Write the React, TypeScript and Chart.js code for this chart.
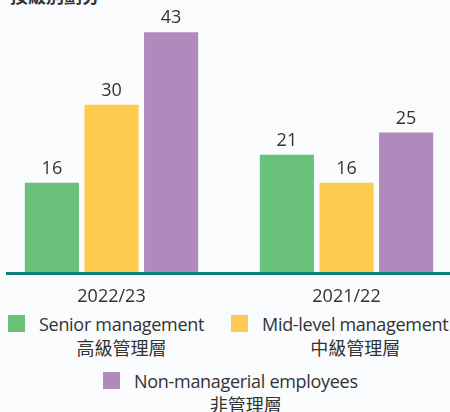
import React, { useEffect, useRef } from 'react';
import { Chart, registerables } from 'chart.js';

Chart.register(...registerables);

// ---- data ----
const categories = ['2022/23', '2021/22'];
const seriesNames = ['Senior management', 'Mid-level management', 'Non-managerial employees'];
const seriesNamesZh = ['高級管理層', '中級管理層', '非管理層'];
const seniorValues = [16, 21];
const midLevelValues = [30, 16];
const nonManagerialValues = [43, 25];
const titleText = '按級別劃分';

// ---- styles ----
const COLORS = ['#69c17a', '#fecb4f', '#b289bd'];
const TEXT = '#333333';
const AXIS = '#0a7f73';
const BG = '#f9fbfc';
const FONT = "'Open Sans', 'Noto Sans CJK TC', sans-serif";

const valueLabelPlugin = {
  id: 'valueLabels',
  afterDatasetsDraw(chart: any) {
    const ctx = chart.ctx;
    ctx.save();
    ctx.font = `18px ${FONT}`;
    ctx.fillStyle = TEXT;
    ctx.textAlign = 'center';
    ctx.textBaseline = 'alphabetic';
    chart.data.datasets.forEach((ds: any, i: number) => {
      const meta = chart.getDatasetMeta(i);
      meta.data.forEach((el: any, j: number) => {
        ctx.fillText(String(ds.data[j]), el.x, el.y - 9);
      });
    });
    ctx.restore();
  },
};

const axisLinePlugin = {
  id: 'axisLine',
  afterDatasetsDraw(chart: any) {
    const ctx = chart.ctx;
    const y = chart.scales.y.getPixelForValue(0);
    ctx.save();
    ctx.strokeStyle = AXIS;
    ctx.lineWidth = 3;
    ctx.beginPath();
    ctx.moveTo(chart.chartArea.left + 12, y + 1.5);
    ctx.lineTo(chart.width, y + 1.5);
    ctx.stroke();
    ctx.restore();
  },
};

const legendPlacement = [
  { left: 8, top: 312 },
  { left: 231, top: 312 },
  { left: 103, top: 369 },
];

export default function App() {
  const canvasRef = useRef<HTMLCanvasElement | null>(null);

  useEffect(() => {
    if (!canvasRef.current) return;
    const seriesValues = [seniorValues, midLevelValues, nonManagerialValues];
    const chart = new Chart(canvasRef.current, {
      type: 'bar',
      data: {
        labels: categories,
        datasets: seriesNames.map((name, i) => ({
          label: name,
          data: seriesValues[i],
          backgroundColor: COLORS[i],
          borderWidth: 0,
          barPercentage: 0.908,
          categoryPercentage: 0.761,
        })),
      },
      options: {
        responsive: false,
        animation: false,
        devicePixelRatio: 1,
        layout: { padding: { top: 21, left: 0, right: 0, bottom: 0 } },
        plugins: {
          legend: { display: false },
          tooltip: { enabled: false },
          title: { display: false },
        },
        scales: {
          x: {
            grid: { display: false, drawTicks: false },
            border: { display: false },
            ticks: {
              color: TEXT,
              font: { family: FONT, size: 18 },
              padding: 14,
            },
            afterFit: (scale: any) => {
              scale.height = 40;
            },
          },
          y: {
            display: false,
            min: 0,
            max: 45,
          },
        },
      },
      plugins: [valueLabelPlugin, axisLinePlugin],
    });
    return () => chart.destroy();
  }, []);

  return (
    <div
      style={{
        position: 'fixed',
        left: 0,
        top: 0,
        width: 450,
        height: 412,
        overflow: 'hidden',
        background: BG,
        fontFamily: FONT,
        color: TEXT,
      }}
    >
      <div
        style={{
          position: 'absolute',
          left: 10,
          top: -16,
          fontSize: 18,
          lineHeight: '24px',
          fontWeight: 'bold',
          whiteSpace: 'nowrap',
        }}
      >
        {titleText}
      </div>
      <canvas
        ref={canvasRef}
        width={470}
        height={312}
        style={{ position: 'absolute', left: -6, top: 0, width: 470, height: 312 }}
      />
      {seriesNames.map((name, i) => (
        <div
          key={name}
          style={{
            position: 'absolute',
            left: legendPlacement[i].left,
            top: legendPlacement[i].top,
            display: 'flex',
            alignItems: 'flex-start',
            whiteSpace: 'nowrap',
          }}
        >
          <div
            style={{
              width: 17,
              height: 17,
              marginTop: 3,
              marginRight: 14,
              background: COLORS[i],
              flex: 'none',
            }}
          />
          <div style={{ fontSize: 18, lineHeight: '24px', textAlign: 'center' }}>
            <div style={{ letterSpacing: '-0.3px' }}>{name}</div>
            <div>{seriesNamesZh[i]}</div>
          </div>
        </div>
      ))}
    </div>
  );
}
